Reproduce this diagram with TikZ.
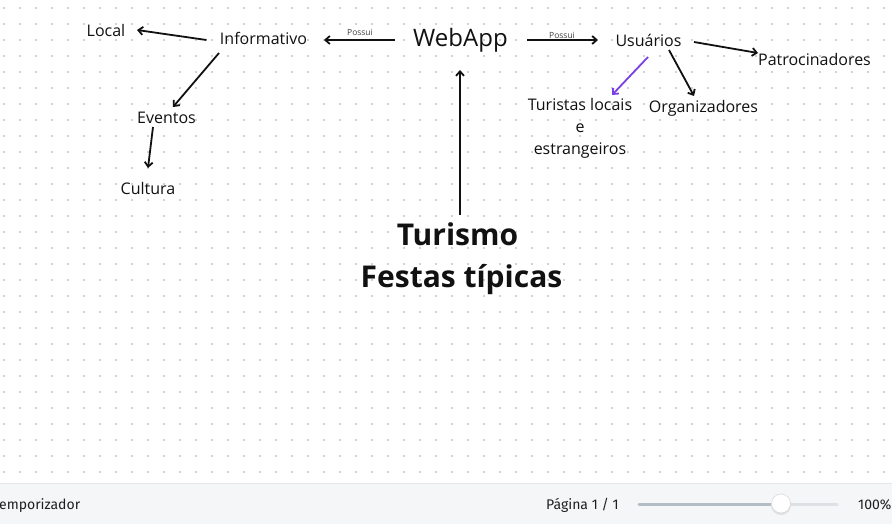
\documentclass[tikz,border=0pt]{standalone}
\usepackage{fontspec}
\setmainfont{Open Sans}
\newfontfamily\uifont{Fira Sans}
\usetikzlibrary{arrows.meta}
\definecolor{ink}{HTML}{111111}
\definecolor{dotc}{HTML}{CDD1D8}
\definecolor{barbg}{HTML}{F5F6F8}
\definecolor{barline}{HTML}{E3E6EA}
\definecolor{purp}{HTML}{7A3FE4}
\definecolor{trackdark}{HTML}{B4BCC6}
\definecolor{tracklight}{HTML}{DDE1E6}
\tikzset{
  lbl/.style={inner sep=0pt, anchor=base, text=ink, font=\fontsize{16}{19}\selectfont},
  big/.style={inner sep=0pt, anchor=base, text=ink, font=\fontsize{24}{28}\selectfont},
  head/.style={inner sep=0pt, anchor=base, text=ink, font=\bfseries\fontsize{30}{36}\selectfont},
  small/.style={inner sep=0pt, anchor=base, text=black!75, font=\fontsize{8.5}{10}\selectfont},
  ui/.style={inner sep=0pt, anchor=base, text=black!88, font=\uifont\fontsize{14}{16}\selectfont},
  arr/.style={draw=ink, line width=1.8pt, -{Straight Barb[length=4.5pt,width=8pt]}},
}
\begin{document}
\begin{tikzpicture}[x=1pt,y=-1pt]
\useasboundingbox (0,0) rectangle (892,524);
\fill[white] (0,0) rectangle (892,524);
% dot grid
\foreach \i in {0,...,55}{
  \foreach \j in {0,...,29}{
    \fill[dotc] ({4+16*\i-0.9},{8+16*\j-0.9}) rectangle ++(1.8,1.8);
  }
}
% nodes
\node[lbl] (loc) at (106,37) {Local};
\node[lbl] (inf) at (263.5,45) {Informativo};
\node[lbl] (evt) at (166.5,124) {Eventos};
\node[lbl] (cul) at (148,195) {Cultura};
\node[big] (web) at (460.5,47) {WebApp};
\node[lbl] (usu) at (648.5,47) {Usuários};
\node[lbl] (pat) at (814.5,66) {Patrocinadores};
\node[lbl] (org) at (703.5,113) {Organizadores};
\node[lbl] (tur1) at (580,111) {Turistas locais};
\node[lbl] (tur2) at (580,133) {e};
\node[lbl] (tur3) at (580,155) {estrangeiros};
\node[head] (tm) at (457.5,245) {Turismo};
\node[head] (ft) at (461.5,287) {Festas típicas};
\node[small] (p1) at (360,36) {Possui};
\node[small] (p2) at (562,38.5) {Possui};
% connectors
\draw[arr] ([shift={(-57,-5)}]inf.base) -- ([shift={(31,-7)}]loc.base);
\draw[arr] ([shift={(-44.5,8)}]inf.base) -- ([shift={(6.5,-17)}]evt.base);
\draw[arr] ([shift={(-13.5,3)}]evt.base) -- ([shift={(0,-27)}]cul.base);
\draw[arr] ([shift={(-65.5,-7)}]web.base) -- ([shift={(60.5,-5)}]inf.base);
\draw[arr] ([shift={(66.5,-7)}]web.base) -- ([shift={(-50.5,-7)}]usu.base);
\draw[arr] ([shift={(45.5,-5)}]usu.base) -- ([shift={(-56.5,-13)}]pat.base);
\draw[arr] ([shift={(20.5,3)}]usu.base) -- ([shift={(-9.5,-17)}]org.base);
\draw[arr, draw=purp] ([shift={(-0.5,10)}]usu.base) -- ([shift={(32,-16)}]tur1.base);
\draw[arr] ([shift={(2.5,-30)}]tm.base) -- ([shift={(-0.5,23)}]web.base);
% bottom bar
\fill[barbg] (0,483) rectangle (892,524);
\draw[barline, line width=1pt] (0,483) -- (892,483);
\node[ui, anchor=base west] (tmr) at (-1,509) {emporizador};
\node[ui, anchor=base west] (pg) at (546,509) {Página 1 / 1};
\draw[tracklight, line width=3pt, line cap=round] (639,504) -- (837,504);
\draw[trackdark, line width=3pt, line cap=round] (639,504) -- (781,504);
\node[circle, minimum size=20pt, inner sep=0pt, fill=black!12] (knobshadow) at (781,505) {};
\node[circle, minimum size=19pt, inner sep=0pt, fill=white, draw=black!15, line width=0.6pt] (knob) at (781,503.5) {};
\node[ui, anchor=base west] (zoomlbl) at (858,509) {100\%};
\end{tikzpicture}
\end{document}
